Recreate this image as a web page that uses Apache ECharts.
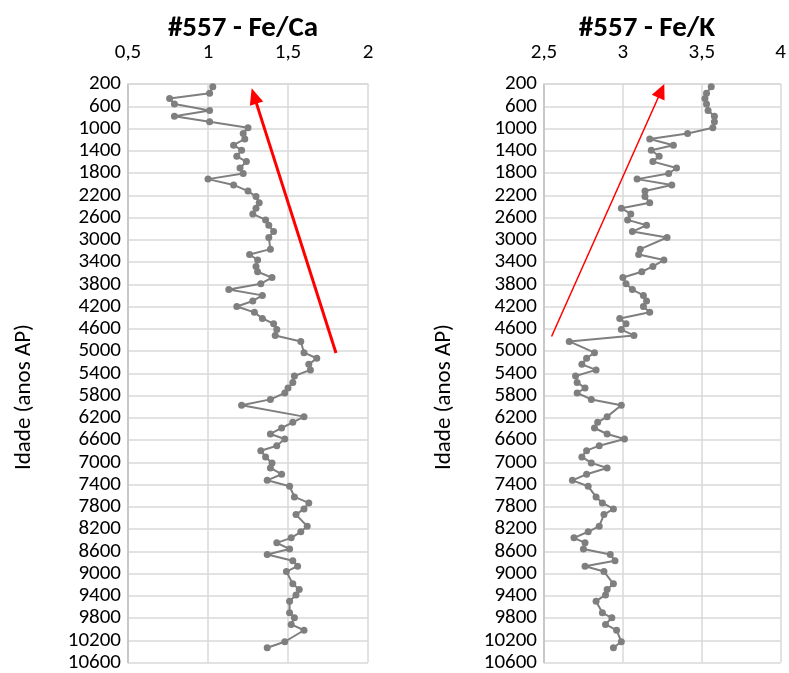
<!DOCTYPE html>
<html>
<head>
<meta charset="utf-8">
<title>#557 - Fe/Ca e Fe/K</title>
<script src="https://cdn.jsdelivr.net/npm/echarts@6/dist/echarts.min.js"></script>
<style>
  html, body { margin: 0; padding: 0; background: #ffffff; }
  #chart { width: 789px; height: 673px; }
</style>
</head>
<body>
<div id="chart"></div>
<script>
// Idade (anos AP) de cada amostra do testemunho #557
const ages = [248, 367, 460, 560, 675, 780, 880, 985, 1090, 1188,
  1300, 1390, 1500, 1595, 1710, 1810, 1910, 2014, 2125, 2224,
  2335, 2433, 2535, 2643, 2740, 2853, 2960, 3169, 3265, 3365,
  3480, 3575, 3680, 3790, 3895, 4000, 4100, 4200, 4305, 4415,
  4510, 4615, 4720, 4828, 5030, 5130, 5240, 5340, 5450, 5565,
  5665, 5755, 5870, 5975, 6180, 6283, 6384, 6492, 6582, 6702,
  6792, 6905, 7012, 7102, 7215, 7325, 7432, 7623, 7731, 7839,
  7941, 8150, 8250, 8359, 8449, 8560, 8659, 8770, 8869, 8965,
  9186, 9288, 9385, 9498, 9706, 9796, 9916, 10020, 10227, 10335];

// Razão Fe/Ca
const feCa = [1.03, 1.01, 0.76, 0.79, 1.01, 0.79, 1.01, 1.25, 1.22, 1.23,
  1.16, 1.21, 1.18, 1.24, 1.20, 1.22, 1.00, 1.16, 1.25, 1.30,
  1.32, 1.30, 1.28, 1.36, 1.38, 1.41, 1.38, 1.39, 1.26, 1.31,
  1.30, 1.31, 1.40, 1.33, 1.13, 1.34, 1.28, 1.18, 1.29, 1.34,
  1.41, 1.43, 1.42, 1.58, 1.60, 1.68, 1.63, 1.64, 1.54, 1.53,
  1.50, 1.48, 1.39, 1.21, 1.60, 1.53, 1.46, 1.39, 1.48, 1.43,
  1.33, 1.36, 1.40, 1.39, 1.46, 1.37, 1.51, 1.54, 1.63, 1.60,
  1.55, 1.62, 1.58, 1.52, 1.43, 1.51, 1.37, 1.53, 1.56, 1.49,
  1.53, 1.57, 1.55, 1.51, 1.51, 1.54, 1.52, 1.60, 1.48, 1.37];

// Razão Fe/K
const feK = [3.56, 3.53, 3.52, 3.53, 3.54, 3.58, 3.58, 3.57, 3.41, 3.17,
  3.32, 3.18, 3.23, 3.19, 3.34, 3.29, 3.09, 3.31, 3.14, 3.14,
  3.17, 2.99, 3.05, 3.03, 3.15, 3.06, 3.28, 3.11, 3.10, 3.26,
  3.19, 3.12, 3.00, 3.02, 3.06, 3.13, 3.15, 3.13, 3.17, 2.98,
  3.02, 2.99, 3.07, 2.66, 2.82, 2.77, 2.74, 2.83, 2.70, 2.71,
  2.76, 2.71, 2.80, 2.99, 2.90, 2.84, 2.82, 2.90, 3.01, 2.85,
  2.77, 2.74, 2.80, 2.90, 2.77, 2.68, 2.78, 2.83, 2.87, 2.94,
  2.88, 2.85, 2.78, 2.69, 2.76, 2.75, 2.92, 2.95, 2.76, 2.88,
  2.94, 2.90, 2.89, 2.83, 2.87, 2.93, 2.89, 2.96, 2.99, 2.94];

// Setas de tendência: [valor, idade] da cauda e da ponta
const trendFeCa = [[1.80, 5037], [1.288, 414]];
const trendFeK = [[2.548, 4739], [3.243, 322]];

// Escalas dos eixos
const ageAxis = { min: 200, max: 10600, step: 400 };
const feCaAxis = { min: 0.5, max: 2, step: 0.5 };
const feKAxis = { min: 2.5, max: 4, step: 0.5 };

const panelTitles = ['#557 - Fe/Ca', '#557 - Fe/K'];
const ageTitle = 'Idade (anos AP)';

const FONT = 'Carlito, "Liberation Sans", Arial, sans-serif';
const GRID = '#d9d9d9';
const SERIES = '#7f7f7f';

function pairs(xs) {
  return xs.map((v, i) => [v, ages[i]]);
}

function xAxisFor(idx, ax) {
  return {
    type: 'value', gridIndex: idx, position: 'top',
    min: ax.min, max: ax.max, interval: ax.step,
    axisLine: { show: true, lineStyle: { color: GRID, width: 1.5 } },
    axisTick: { show: false },
    splitLine: { show: true, lineStyle: { color: GRID, width: 1.5 } },
    axisLabel: {
      margin: 21, color: '#000', fontFamily: FONT, fontSize: 21,
      formatter: v => String(v).replace('.', ',')
    }
  };
}

function yAxisFor(idx) {
  return {
    type: 'value', gridIndex: idx, inverse: true,
    min: ageAxis.min, max: ageAxis.max, interval: ageAxis.step,
    axisLine: { show: true, lineStyle: { color: '#bfbfbf', width: 1.5 } },
    axisTick: { show: false },
    splitLine: { show: true, lineStyle: { color: GRID, width: 1.5 } },
    axisLabel: {
      margin: 7, color: '#000', fontFamily: FONT, fontSize: 21,
      formatter: v => String(v)
    }
  };
}

function seriesFor(idx, values, arrow, arrowWidth, arrowSize) {
  return {
    type: 'line', xAxisIndex: idx, yAxisIndex: idx,
    data: pairs(values),
    symbol: 'circle', symbolSize: 7,
    lineStyle: { color: SERIES, width: 2 },
    itemStyle: { color: SERIES },
    animation: false,
    markLine: {
      silent: true, animation: false,
      symbol: ['none', 'triangle'], symbolSize: arrowSize,
      lineStyle: { color: '#ff0000', width: arrowWidth, type: 'solid' },
      label: { show: false },
      emphasis: { disabled: true },
      data: [[{ coord: arrow[0] }, { coord: arrow[1] }]]
    }
  };
}

const chart = echarts.init(document.getElementById('chart'));
chart.setOption({
  backgroundColor: '#ffffff',
  animation: false,
  grid: [
    { left: 128, top: 84, width: 240, height: 579 },
    { left: 544, top: 84, width: 240, height: 579 }
  ],
  xAxis: [xAxisFor(0, feCaAxis), xAxisFor(1, feKAxis)],
  yAxis: [yAxisFor(0), yAxisFor(1)],
  series: [
    seriesFor(0, feCa, trendFeCa, 3, [14, 16]),
    seriesFor(1, feK, trendFeK, 1.5, [14, 15])
  ],
  graphic: [
    { type: 'text', x: 243, y: 29, style: { text: panelTitles[0], font: 'bold 29px ' + FONT, fill: '#000', textAlign: 'center', textVerticalAlign: 'middle' } },
    { type: 'text', x: 647, y: 29, style: { text: panelTitles[1], font: 'bold 29px ' + FONT, fill: '#000', textAlign: 'center', textVerticalAlign: 'middle' } },
    { type: 'text', x: 24, y: 397, rotation: Math.PI / 2, style: { text: ageTitle, font: '23px ' + FONT, fill: '#000', textAlign: 'center', textVerticalAlign: 'middle' } },
    { type: 'text', x: 444, y: 397, rotation: Math.PI / 2, style: { text: ageTitle, font: '23px ' + FONT, fill: '#000', textAlign: 'center', textVerticalAlign: 'middle' } }
  ]
});
</script>
</body>
</html>
